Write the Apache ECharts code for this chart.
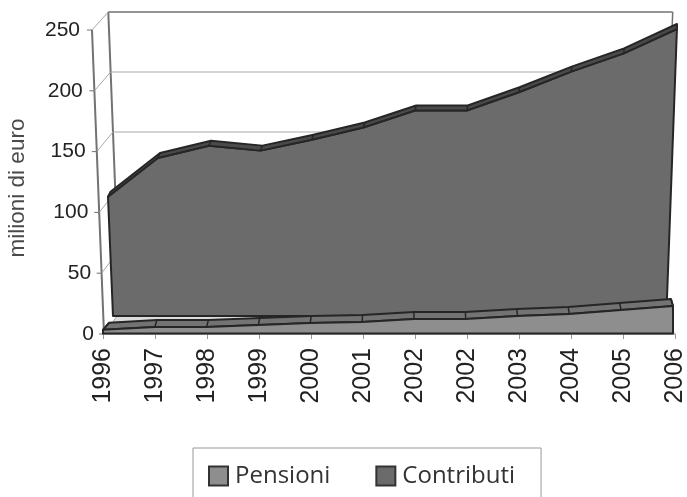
<!DOCTYPE html>
<html>
<head>
<meta charset="utf-8">
<style>html,body{margin:0;padding:0;background:#fff;overflow:hidden}#c{width:687px;height:497px}</style>
<script src="https://cdn.jsdelivr.net/npm/echarts@6/dist/echarts.min.js"></script>
</head>
<body>
<div id="c"></div>
<script>
// Years and series, in millions of euro
const years = ['1996','1997','1998','1999','2000','2001','2002','2002','2003','2004','2005','2006'];
const pensioni = [3, 5.3, 5.3, 7, 8.6, 9.5, 12, 12, 14.4, 16, 19.3, 22.6];
const contributi = [98, 130, 140, 136, 145, 155, 169, 169, 184, 201, 216, 236];
const valueTicks = [0, 50, 100, 150, 200, 250];
const backGridTicks = [150, 200, 250];

const lerp = (a, b, t) => a + (b - a) * t;
const INK = '#262626', FRAME = '#727272', GRID = '#a8a8a8';
const FACE_FRONT = '#8e8e8e', FACE_REAR = '#6b6b6b';

// Perspective of the box: edges lean inward toward the floor and the back wall
const frontLeft = y => 104 - 0.0395 * (334 - y);
const backPoint = (xn, v) => {
  const y = 312 - 1.2 * v;
  const l = 120 - 0.039 * (312 - y), r = lerp(662, 672.7, v / 250);
  return [lerp(l, r, xn), y];
};
const frontPoint = (v) => {
  const y = 334 - 1.216 * v;
  return [frontLeft(y), y];
};

// Walls, floor, gridlines and the slanted value axis
function renderFrame(params, api) {
  const v = api.value(0);
  const kids = [];
  const line = (a, b, color, width) => kids.push({
    type: 'line', shape: {x1: a[0], y1: a[1], x2: b[0], y2: b[1]},
    style: {stroke: color, lineWidth: width}
  });
  const f = frontPoint(v), b = backPoint(0, v);
  line(f, b, GRID, 1);
  line([f[0] - 5, f[1]], f, FRAME, 1);
  if (backGridTicks.includes(v)) line(b, backPoint(1, v), v === 250 ? FRAME : GRID, v === 250 ? 1.5 : 1);
  if (params.dataIndex === 0) {
    kids.unshift({
      type: 'polygon',
      shape: {points: [frontPoint(0), backPoint(0, 0), backPoint(1, 0), [676, 334]]},
      style: {fill: '#dcdcdc'}
    });
    line(frontPoint(0), frontPoint(250), FRAME, 2);
    line(backPoint(0, 0), backPoint(0, 250), FRAME, 2);
    line(backPoint(1, 0), backPoint(1, 250), FRAME, 1.5);
  }
  return {type: 'group', children: kids};
}

// Rear series: a large front face with a thin ridge strip along its top
function renderContributi(params, api) {
  if (params.dataIndex !== 0) return null;
  const g = params.coordSys;
  const last = years.length - 1;
  const place = (i, v) => {
    const c = api.coord([i, v]);
    const y = c[1] - 18;
    const xn = (c[0] - g.x) / g.width;
    return [lerp(113 - 0.042 * (316 - y), 667 + 0.0369 * (298 - y), xn), y];
  };
  const top = contributi.map((v, i) => place(i, v));
  const base = [place(last, 0), place(0, 0)];
  const ridge = top.map((p, i) => [p[0] + lerp(2.5, 0, i / last), p[1] - 5]);
  const kids = [{
    type: 'polygon',
    shape: {points: top.concat(base)},
    style: {fill: FACE_REAR, stroke: INK, lineWidth: 2, lineJoin: 'round'}
  }, {
    type: 'polygon',
    shape: {points: top.concat(ridge.slice().reverse())},
    style: {fill: '#4a4a4a', stroke: INK, lineWidth: 2, lineJoin: 'round'}
  }];
  top.forEach((p, i) => kids.push({
    type: 'line', shape: {x1: p[0], y1: p[1], x2: ridge[i][0], y2: ridge[i][1]},
    style: {stroke: INK, lineWidth: 1.5}
  }));
  return {type: 'group', children: kids};
}

// Front series: a low face with a wider sloping top strip
function renderPensioni(params, api) {
  if (params.dataIndex !== 0) return null;
  const g = params.coordSys;
  const last = years.length - 1;
  const place = (i, v) => {
    const c = api.coord([i, v]);
    return [lerp(103, 673, (c[0] - g.x) / g.width), c[1] - 0.5];
  };
  const top = pensioni.map((v, i) => place(i, v));
  const back = top.map((p, i) => [p[0] + (i === 0 ? 6 : lerp(2.5, -2, i / last)), p[1] - 7]);
  const kids = [{
    type: 'polygon',
    shape: {points: top.concat(back.slice().reverse())},
    style: {fill: '#737373', stroke: INK, lineWidth: 2, lineJoin: 'round'}
  }, {
    type: 'polygon',
    shape: {points: top.concat([place(last, 0), place(0, 0)])},
    style: {fill: FACE_FRONT, stroke: INK, lineWidth: 2, lineJoin: 'round'}
  }];
  top.forEach((p, i) => kids.push({
    type: 'line', shape: {x1: p[0], y1: p[1], x2: back[i][0], y2: back[i][1]},
    style: {stroke: INK, lineWidth: 1.5}
  }));
  return {type: 'group', children: kids};
}

// Tick labels step away from the plot as the axis leans outward
const tickStyles = {};
valueTicks.forEach(v => {
  tickStyles['t' + v] = {
    fontFamily: 'Liberation Sans', fontSize: 21, color: '#222',
    padding: [0, 9 + v / 250 * 14, 0, 0]
  };
});

const chart = echarts.init(document.getElementById('c'), null, {renderer: 'canvas'});
chart.setOption({
  animation: false,
  backgroundColor: '#fff',
  grid: {left: 103, right: 12, top: 30, bottom: 163, containLabel: false, outerBoundsMode: 'none'},
  xAxis: {
    type: 'category',
    data: years,
    boundaryGap: false,
    offset: 3,
    axisLine: {lineStyle: {color: '#b0b0b0', width: 2}},
    axisTick: {show: true, length: 5, alignWithLabel: true, interval: 0, lineStyle: {color: '#9a9a9a'}},
    axisLabel: {interval: 0, rotate: 90, margin: 11, padding: [0, 0, 3, 0], fontFamily: 'Liberation Sans', fontSize: 25, color: '#222', hideOverlap: false}
  },
  yAxis: {
    type: 'value',
    min: 0, max: 250, interval: 50,
    name: 'milioni di euro',
    nameLocation: 'middle',
    nameGap: 74,
    nameRotate: 90,
    nameTextStyle: {fontFamily: 'Liberation Sans', fontSize: 22.5, color: '#4a4a4a', padding: [0, 12, 0, 0]},
    axisLine: {show: false},
    axisTick: {show: false},
    splitLine: {show: false},
    axisLabel: {margin: 0, formatter: v => `{t${v}|${v}}`, rich: tickStyles}
  },
  legend: {
    left: 193, top: 448,
    padding: [16, 26, 20, 15],
    itemWidth: 19, itemHeight: 19, itemGap: 45,
    borderColor: '#999', borderWidth: 1,
    textStyle: {fontFamily: 'Open Sans', fontSize: 24, color: '#333', padding: [0, 0, 0, 2]},
    data: [
      {name: 'Pensioni', icon: 'rect', itemStyle: {color: FACE_FRONT, borderColor: '#333', borderWidth: 2}},
      {name: 'Contributi', icon: 'rect', itemStyle: {color: FACE_REAR, borderColor: '#333', borderWidth: 2}}
    ]
  },
  series: [
    {type: 'custom', name: 'frame', silent: true, clip: false, z: 1, renderItem: renderFrame,
     data: valueTicks.map(v => [v]), encode: {y: 0}, tooltip: {show: false}},
    {type: 'custom', name: 'Contributi', clip: false, z: 2, renderItem: renderContributi,
     itemStyle: {color: FACE_REAR}, data: contributi.map((v, i) => [i, v]), encode: {x: 0, y: 1}},
    {type: 'custom', name: 'Pensioni', clip: false, z: 3, renderItem: renderPensioni,
     itemStyle: {color: FACE_FRONT}, data: pensioni.map((v, i) => [i, v]), encode: {x: 0, y: 1}}
  ]
});
</script>
</body>
</html>
